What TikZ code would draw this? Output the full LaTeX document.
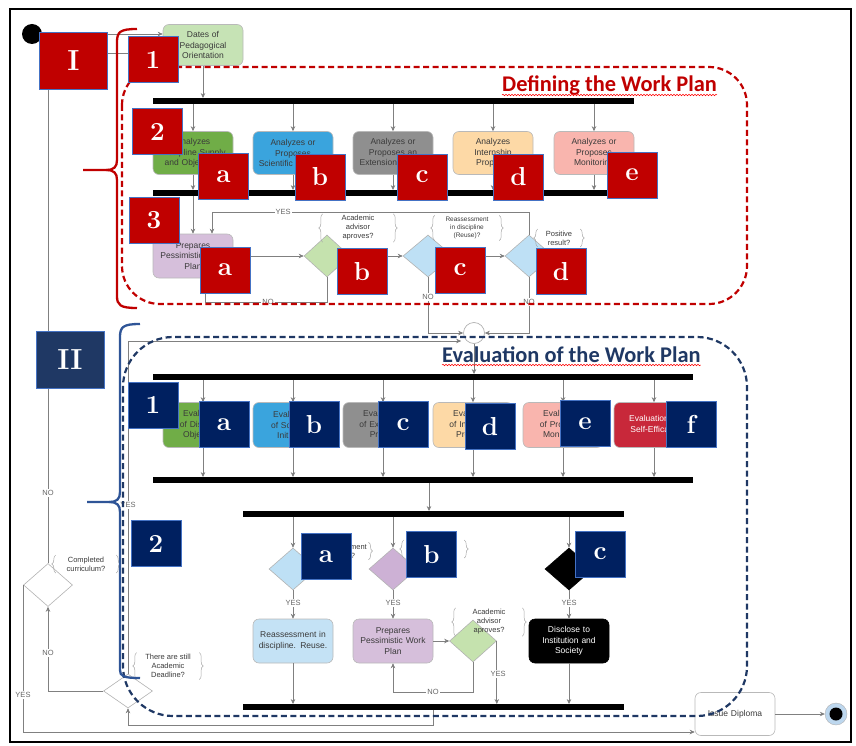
\documentclass[tikz,border=0pt]{standalone}
\usepackage{fontspec}
\setsansfont{Liberation Sans}
\newfontfamily\titlefont{Carlito}
\usetikzlibrary{shapes.geometric,arrows.meta,decorations.pathreplacing,decorations.pathmorphing,calc}
\definecolor{lred}{HTML}{C00000}
\definecolor{labb}{HTML}{4472C4}
\definecolor{lnavy}{HTML}{002060}
\definecolor{lnavyb}{HTML}{1F3864}
\definecolor{braceblue}{HTML}{2F5597}
\definecolor{txtc}{HTML}{3A3A3A}
\definecolor{linec}{HTML}{808080}
\definecolor{cdates}{HTML}{C6E3B5}
\definecolor{cgreen}{HTML}{70AD47}
\definecolor{cblue}{HTML}{3AA4DD}
\definecolor{cgrey}{HTML}{8F8F8F}
\definecolor{cpeach}{HTML}{FDD9A6}
\definecolor{cpink}{HTML}{F9B5AE}
\definecolor{cpurple}{HTML}{D6BFDB}
\definecolor{cdgreen}{HTML}{C5E2AE}
\definecolor{cdblue}{HTML}{BEE0F5}
\definecolor{cdpurple}{HTML}{CDB1D5}
\definecolor{creass}{HTML}{C4E2F5}
\definecolor{cred}{HTML}{C8283A}
\definecolor{cend}{HTML}{BDD7EE}
\tikzset{
  txt/.style={font=\sffamily\fontsize{8.5}{10.5}\selectfont, text=txtc, align=center},
  box/.style={txt, rectangle, rounded corners=6pt, draw=gray!55, line width=0.6pt,
    minimum width=80pt, minimum height=43pt, inner sep=1pt, text width=78pt},
  dia/.style={diamond, draw=gray!60, line width=0.6pt, minimum width=48pt,
    minimum height=42pt, inner sep=0pt},
  barn/.style={rectangle, fill=black, minimum height=5.5pt, inner sep=0pt},
  con/.style={draw=linec, line width=0.7pt},
  arr/.style={con, -{Stealth[length=5pt,width=4.5pt,fill=black!80]}},
  ylab/.style={font=\sffamily\fontsize{7.5}{9}\selectfont, text=gray!80!black, fill=white, inner sep=1pt},
  ann/.style={font=\sffamily\fontsize{7.5}{9}\selectfont, text=txtc, align=center, inner sep=1.5pt},
  brc/.style={draw=gray!70, line width=0.5pt, decorate, decoration={brace, amplitude=4pt}},
  lab/.style={rectangle, draw=labb, line width=0.8pt, text=white, minimum width=50pt,
    minimum height=46pt, inner sep=0pt, font=\fontsize{26}{26}\selectfont\bfseries},
  rlab/.style={lab, fill=lred},
  blab/.style={lab, fill=lnavy},
  biglab/.style={minimum width=68pt, minimum height=57pt, font=\fontsize{29}{29}\selectfont\bfseries},
  wavy/.style={draw=red, line width=0.5pt, decorate, decoration={snake, amplitude=0.8pt, segment length=3pt}},
  ttl/.style={font=\titlefont\bfseries\fontsize{22.4}{22.4}\selectfont, anchor=base west, inner sep=0pt}
}
\begin{document}
\begin{tikzpicture}[x=1pt,y=-1pt]
\useasboundingbox (0,0) rectangle (856,746);
\draw[line width=1.5pt] (10,9) rectangle (851,742);

% ---------- nodes, section I ----------
\node[circle, fill=black, minimum size=20pt, inner sep=0pt] (st) at (32,34) {};
\node[box, fill=cdates, minimum height=41pt] (dates) at (203,45) {Dates of\\Pedagogical\\Orientation};
\node[barn, minimum width=481pt] (b1) at (393.5,101) {};
\node[box, fill=cgreen] (p1) at (193,153) {Analyzes\\Discipline Supply\\and Objectives};
\node[box, fill=cblue] (p2) at (293,153) {Analyzes or\\Proposes\\Scientific Initiation};
\node[box, fill=cgrey] (p3) at (393,153) {Analyzes or\\Proposes an\\Extension Project};
\node[box, fill=cpeach] (p4) at (493,153) {Analyzes\\Internship\\Proposal};
\node[box, fill=cpink] (p5) at (594,153) {Analyzes or\\Proposes\\Monitoring};
\node[barn, minimum width=481pt] (b2) at (393.5,193) {};
\node[box, fill=cpurple, minimum height=44pt] (prep) at (193,256) {Prepares\\Pessimistic Work\\Plan};
\node[dia, fill=cdgreen, minimum width=46pt] (db) at (327,256) {};
\node[dia, fill=cdblue, minimum width=50pt] (dc) at (428,256) {};
\node[dia, fill=cdblue, minimum width=48pt] (dd) at (529,256) {};
\node[circle, draw=gray!60, fill=white, line width=0.7pt, minimum size=21pt, inner sep=0pt] (m) at (474,333) {};

\node[ann, minimum width=70pt] (an1) at (358,228) {Academic\\advisor\\aproves?};
\node[ann, font=\sffamily\fontsize{6.5}{8}\selectfont, minimum width=64pt] (an2) at (467,228) {Reassessment\\in discipline\\(Reuse)?};
\node[ann, minimum width=42pt] (an3) at (559,238) {Positive\\result?};

% ---------- nodes, section II ----------
\node[barn, minimum width=540pt] (b3) at (423,377) {};
\node[box, fill=cgreen, minimum height=45pt] (e1) at (203,425) {Evaluation\\of Discipline\\Objectives};
\node[box, fill=cblue, minimum height=45pt] (e2) at (293,425) {Evaluation\\of Scientific\\Initiation};
\node[box, fill=cgrey, minimum height=45pt] (e3) at (383,425) {Evaluation\\of Extension\\Project};
\node[box, fill=cpeach, minimum height=45pt] (e4) at (473,425) {Evaluation\\of Internship\\Proposal};
\node[box, fill=cpink, minimum height=45pt] (e5) at (563,425) {Evaluation\\of Proposed\\Monitoring};
\node[box, fill=cred, minimum height=45pt, text=white] (e6) at (654,425) {Evaluation of\\Self-Efficacy};
\node[barn, minimum width=540pt] (b4) at (423,480) {};
\node[barn, minimum width=381pt] (b5) at (433.5,514) {};
\node[dia, fill=cdblue] (da) at (293,569) {};
\node[dia, fill=cdpurple] (dbb) at (393,569) {};
\node[dia, fill=black, draw=black] (dcc) at (569,569) {};
\node[box, fill=creass, minimum height=44pt] (ra) at (293,641) {Reassessment in\\discipline. Reuse.};
\node[box, fill=cpurple, minimum height=44pt] (pp) at (393,641) {Prepares\\Pessimistic Work\\Plan};
\node[dia, fill=cdgreen, minimum width=47pt] (g2) at (473,641) {};
\node[box, fill=black, draw=black, text=white, minimum height=44pt] (dis) at (569,641) {Disclose to\\Institution and\\Society};
\node[barn, minimum width=381pt] (b6) at (433.5,707) {};
\node[dia, fill=white, minimum width=49pt, minimum height=34pt] (dl) at (128,691) {};
\node[dia, fill=white, minimum width=49pt, minimum height=43pt] (cc) at (48,585) {};
\node[box, fill=white, minimum height=43pt] (id) at (735,714) {Issue Diploma};
\node[circle, fill=cend, draw=gray!60, minimum size=22pt, inner sep=0pt] (en) at (836,714) {};
\node[circle, fill=black, minimum size=13pt, inner sep=0pt] (enc) at (en) {};

\node[ann, minimum width=44pt] (an4) at (342,551) {Reassessment\\Reuse?};
\node[ann, minimum width=60pt] (an5) at (434,549) {Rework\\needed?};
\node[ann, minimum width=66pt] (an6) at (489,622) {Academic\\advisor\\aproves?};
\node[ann, minimum width=60pt] (an7) at (86,564) {Completed\\curriculum?};
\node[ann, minimum width=62pt] (an8) at (168,666) {There are still\\Academic\\Deadline?};
\foreach \a in {an1,an2,an3,an4,an5,an6,an7,an8}{
  \draw[brc] (\a.south west) -- (\a.north west);
  \draw[brc] (\a.north east) -- (\a.south east);
}

% ---------- connectors ----------
\draw[arr] (st) -- (dates.west |- st);
\draw[arr] (cc.north) |- ($(dates.west)+(0,8)$);
\draw[arr] (dates.south) -- (dates.south |- b1.north);
\foreach \n in {p1,p2,p3,p4,p5}{
  \draw[arr] (\n.north |- b1.south) -- (\n.north);
  \draw[arr] (\n.south) -- (\n.south |- b2.north);
}
\draw[arr] (prep.north |- b2.south) -- (prep.north);
\draw[arr] (prep.east) -- (db.west);
\draw[arr] (db.east) -- (dc.west);
\draw[arr] (dc.east) -- (dd.west);
\coordinate (yl) at (212,212);
\draw[arr] (dd.north) |- (yl) -- (yl |- prep.north);
\node[ylab] (yes1) at (283,212) {YES};
\coordinate (nl) at (205,302);
\draw[arr] (db.south) |- (nl) -- (nl |- prep.south);
\node[ylab] (no1) at (268,302) {NO};
\draw[arr] (dc.south) |- (m.west);
\node[ylab] (no2) at (428,297) {NO};
\draw[arr] (dd.south) |- (m.east);
\node[ylab] (no3) at (529,302) {NO};
\draw[arr] (m.south) -- (m.south |- b3.north);
\draw[arr] (dl.north) |- ($(m.west)+(-2,8)$);
\node[ylab] (yes2) at (128,505) {YES};

\foreach \n in {e1,e2,e3,e4,e5,e6}{
  \draw[arr] (\n.north |- b3.south) -- (\n.north);
  \draw[arr] (\n.south) -- (\n.south |- b4.north);
}
\coordinate (k) at (429,0);
\draw[arr] (b4.south -| k) -- (b5.north -| k);
\foreach \d/\b in {da/ra,dbb/pp,dcc/dis}{
  \draw[arr] (\d.north |- b5.south) -- (\d.north);
  \draw[arr] (\d.south) -- (\b.north);
}
\foreach \x in {293,393,569} \node[ylab] at (\x,603) {YES};
\draw[arr] (pp.east) -- (g2.west);
\coordinate (nl2) at (393,692);
\draw[arr] (g2.south) |- (nl2) -- (pp.south);
\node[ylab] (no4) at (433,692) {NO};
\draw[arr] (g2.east) -- (g2.east |- b6.north);
\node[ylab] (yes3) at (498,674) {YES};
\draw[arr] (ra.south) -- (ra.south |- b6.north);
\draw[arr] (dis.south) -- (dis.south |- b6.north);
\coordinate (q) at (433,725);
\draw[arr] (b6.south -| q) -- (q) -| (dl.south);
\draw[arr] (dl.west) -| (cc.south);
\node[ylab] (no5) at (48,653) {NO};
\node[ylab] (no6) at (48,493) {NO};
\draw[arr] (cc.west) |- ($(id.west)+(0,18)$);
\node[ylab] (yes4) at (23,695) {YES};
\draw[arr] (id.east) -- (en.west);

% ---------- frames and braces ----------
\draw[lred, dashed, dash pattern=on 6pt off 3.5pt, line width=2.2pt, rounded corners=38pt] (122,67) rectangle (747,304);
\draw[lnavyb, dashed, dash pattern=on 6pt off 3.5pt, line width=2.2pt, rounded corners=50pt] (123,337) rectangle (747,716);
\draw[lred, line width=2.3pt] (137,29) .. controls (120,29) and (117,32) .. (117,42) -- (117,160)
  .. controls (117,167) and (114,170) .. (106,170) -- (83,170);
\draw[lred, line width=2.3pt] (106,170) .. controls (114,170) and (117,173) .. (117,180) -- (117,296)
  .. controls (117,305) and (120,308) .. (137,308);
\draw[braceblue, line width=2.3pt] (140,324) .. controls (123,324) and (120,327) .. (120,337) -- (120,492)
  .. controls (120,499) and (117,502) .. (109,502) -- (87,502);
\draw[braceblue, line width=2.3pt] (109,502) .. controls (117,502) and (120,505) .. (120,512) -- (120,670)
  .. controls (120,676) and (123,678) .. (140,678);

% ---------- titles ----------
\node[ttl, text=lred] (t1) at (502,92) {Defining the Work Plan};
\draw[wavy] ($(t1.base west)+(0,3)$) -- ($(t1.base east)+(0,3)$);
\node[ttl, text=lnavyb] (t2) at (442,362) {Evaluation of the Work Plan};
\draw[wavy] ($(t2.base west)+(0,3)$) -- ($(t2.base east)+(0,3)$);

% ---------- labels ----------
\node[rlab, biglab] (LI) at (73.5,60.5) {I};
\node[rlab] (L1) at (153,59.5) {1};
\node[rlab] (L2) at (157.5,131.5) {2};
\node[rlab] (La) at (223.5,176.5) {a};
\node[rlab] (Lb) at (320,177) {b};
\node[rlab] (Lc) at (422,177) {c};
\node[rlab] (Ld) at (518.5,177) {d};
\node[rlab] (Le) at (632,175) {e};
\node[rlab] (L3) at (154,220) {3};
\node[rlab] (L3a) at (225,270) {a};
\node[rlab] (L3b) at (362,271.5) {b};
\node[rlab] (L3c) at (460,270) {c};
\node[rlab] (L3d) at (561,271.5) {d};
\node[blab, biglab, fill=lnavyb] (LII) at (70,359.5) {II};
\node[blab] (M1) at (153,405) {1};
\node[blab] (Ma) at (224,424.5) {a};
\node[blab] (Mb) at (314,424.5) {b};
\node[blab] (Mc) at (403,424.5) {c};
\node[blab] (Md) at (490,426.5) {d};
\node[blab] (Me) at (585,423.5) {e};
\node[blab] (Mf) at (691,424.5) {f};
\node[blab] (M2) at (156,543.5) {2};
\node[blab] (M2a) at (326,556.5) {a};
\node[blab] (M2b) at (431.5,554.5) {b};
\node[blab] (M2c) at (600,554) {c};
\end{tikzpicture}
\end{document}
